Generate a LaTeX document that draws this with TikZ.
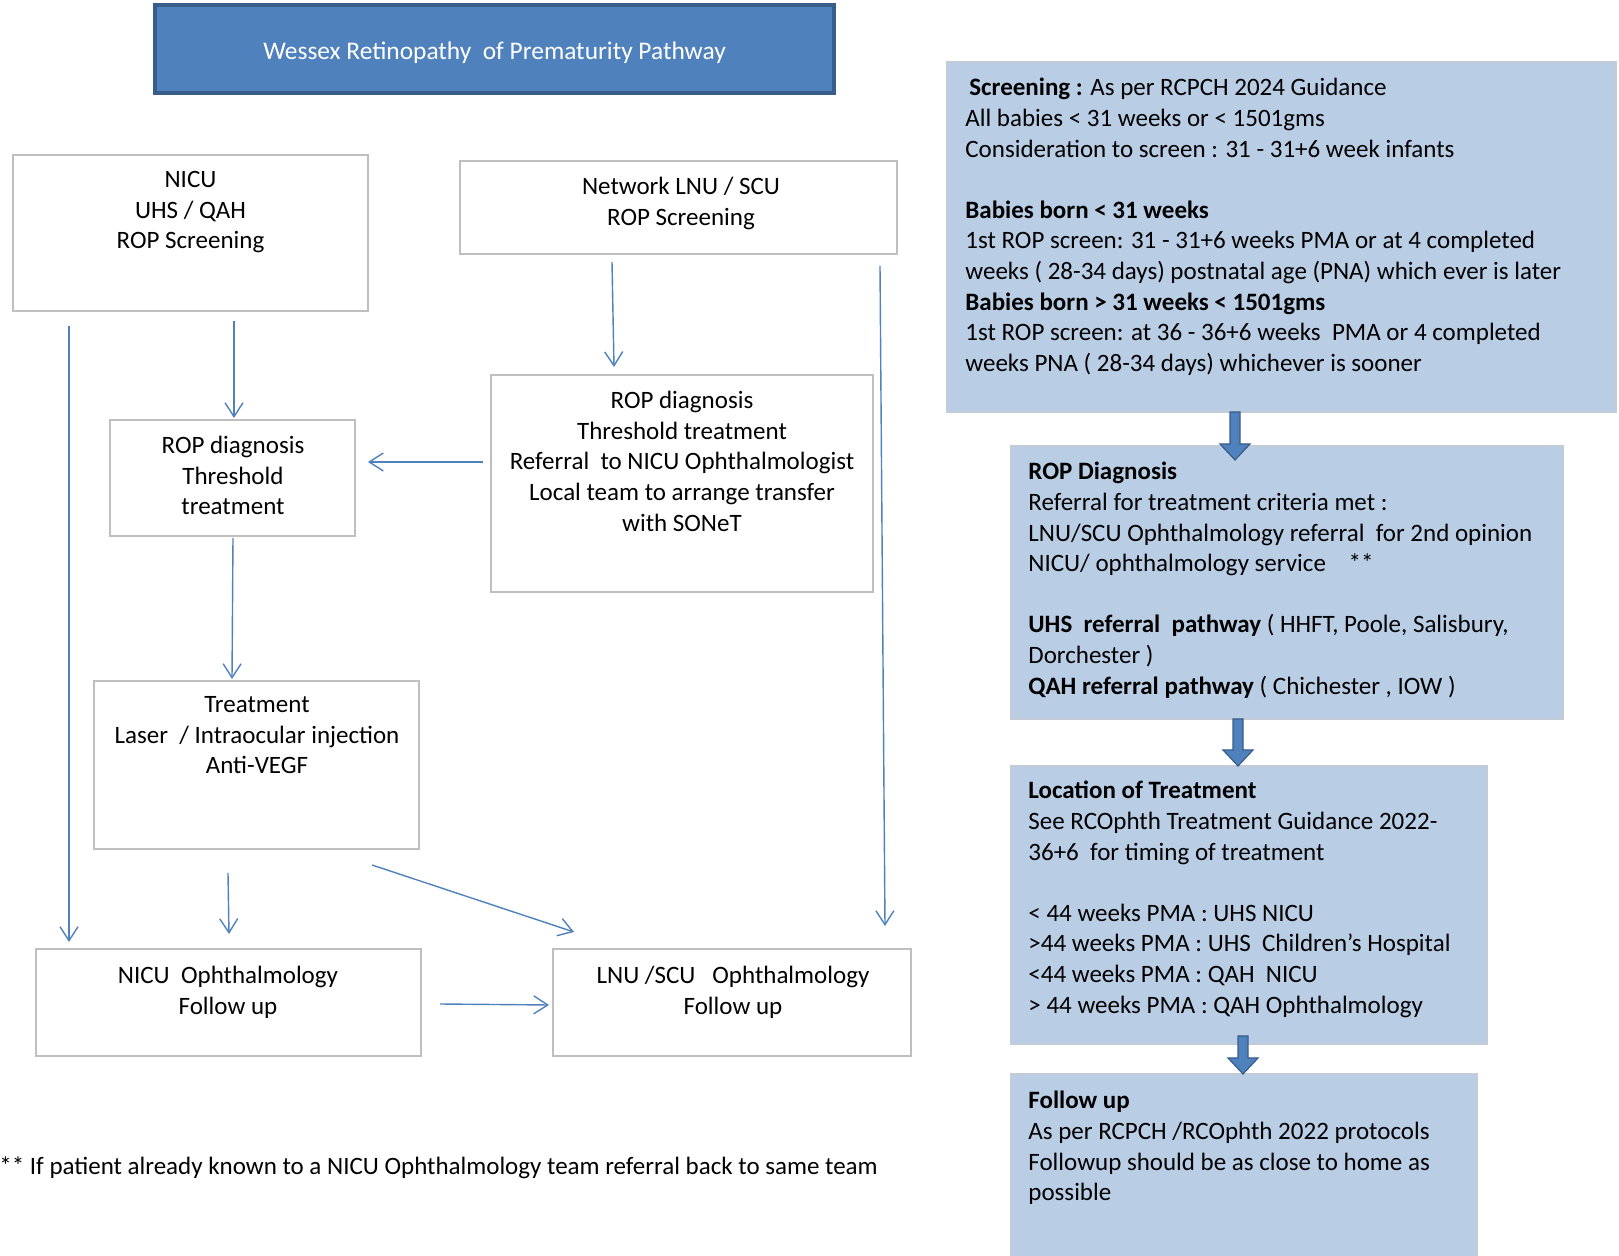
\documentclass[tikz,border=0pt]{standalone}
\usepackage{fontspec}
\setmainfont{Carlito}
\usetikzlibrary{arrows.meta,fit,calc}
\definecolor{accent}{HTML}{4F81BD}
\definecolor{accentdark}{HTML}{385D8A}
\definecolor{panel}{HTML}{B9CDE5}
\definecolor{edge}{HTML}{BFBFBF}
\definecolor{panedge}{HTML}{C3CBD6}
\newcommand\blockarrow[2]{\draw[fill=accent, draw=accentdark, line width=0.6pt] let \p1=(#1), \p2=(#2) in (\x1-2.5pt,\y1) -- (\x1+2.5pt,\y1) -- (\x1+2.5pt,\y2+8pt) -- (\x1+7.5pt,\y2+8pt) -- (\x1,\y2) -- (\x1-7.5pt,\y2+8pt) -- (\x1-2.5pt,\y2+8pt) -- cycle;}
\begin{document}
\begin{tikzpicture}[x=0.5pt,y=-0.5pt,
  every node/.style={font=\fontsize{12.5}{15.3}\selectfont, text=black},
  wbox/.style={draw=edge, line width=0.75pt, fill=white, inner sep=0pt},
  pbox/.style={draw=panedge, line width=0.75pt, fill=panel, inner sep=0pt},
  ctext/.style={anchor=north, align=center, inner sep=0pt},
  ltext/.style={anchor=north west, align=left, inner sep=0pt},
  flow/.style={draw=accent, line width=0.7pt, -{Straight Barb[length=7pt,width=9pt,line width=0.7pt]}}]
\useasboundingbox (0,0) rectangle (1619,1256);
% title
\node[draw=accentdark, line width=2pt, fill=accent, inner sep=0pt, fit={(155,5) (834,93)}] (title) {};
\node[text=white, inner sep=0pt, font=\fontsize{12.7}{15.3}\selectfont] (titletext) at ([yshift=-2pt]title.center) {Wessex Retinopathy\ \ of Prematurity Pathway};
% left flow boxes
\node[wbox, fit={(13,155) (368,311)}] (nicu) {};
\node[ctext] (nicut) at (190.5,171) {NICU\\UHS / QAH\\ROP Screening};
\node[wbox, fit={(460,161) (897,254)}] (net) {};
\node[ctext] (nett) at (681,177) {Network LNU / SCU\\ROP Screening};
\node[wbox, fit={(110,420) (355,536)}] (ropl) {};
\node[ctext] (roplt) at (233,436) {ROP diagnosis\\Threshold\\treatment};
\node[wbox, fit={(491,375) (873,592)}] (ropr) {};
\node[ctext] (roprt) at (682,391) {ROP diagnosis\\Threshold treatment\\Referral\ \ to NICU Ophthalmologist\\Local team to arrange transfer\\with SONeT};
\node[wbox, fit={(94,681) (419,849)}] (treat) {};
\node[ctext] (treatt) at (257,696) {Treatment\\Laser\ \ / Intraocular injection\\Anti-VEGF};
\node[wbox, fit={(36,949) (421,1056)}] (nfu) {};
\node[ctext] (nfut) at (228,966) {NICU\ \ Ophthalmology\\Follow up};
\node[wbox, fit={(553,949) (911,1056)}] (lfu) {};
\node[ctext] (lfut) at (733,966) {LNU /SCU\ \ \ Ophthalmology\\Follow up};
% footnote
\node[anchor=west, inner sep=0pt] (foot) at (-1,1168) {** If patient already known to a NICU Ophthalmology team referral back to same team};
% connector end points
\coordinate (a1s) at (69,326);   \coordinate (a1e) at (69,942);
\coordinate (a2s) at (234,321);  \coordinate (a2e) at (234,418);
\coordinate (a3s) at (612,262);  \coordinate (a3e) at (614,367);
\coordinate (a4s) at (880,266);  \coordinate (a4e) at (885,926);
\coordinate (a5s) at (483,462);  \coordinate (a5e) at (368,462);
\coordinate (a6s) at (233,538);  \coordinate (a6e) at (232,679);
\coordinate (a7s) at (228,873);  \coordinate (a7e) at (229,934);
\coordinate (a8s) at (372,865);  \coordinate (a8e) at (574,932);
\coordinate (a9s) at (440,1004); \coordinate (a9e) at (549,1005);
\draw[flow] (a1s) -- (a1e);
\draw[flow] (a2s) -- (a2e);
\draw[flow] (a3s) -- (a3e);
\draw[flow] (a4s) -- (a4e);
\draw[flow] (a5s) -- (a5e);
\draw[flow] (a6s) -- (a6e);
\draw[flow] (a7s) -- (a7e);
\draw[flow] (a8s) -- (a8e);
\draw[flow] (a9s) -- (a9e);
% right column
\node[pbox, fit={(947,62) (1616,412)}] (screen) {};
\node[ltext] (screent) at (965,78) {\hspace{2pt}\textbf{Screening :} As per RCPCH 2024 Guidance\\
All babies < 31 weeks or < 1501gms\\
Consideration to screen : 31 - 31+6 week infants\\
\mbox{}\\
\textbf{Babies born < 31 weeks}\\
1st ROP screen: 31 - 31+6 weeks PMA or at 4 completed\\
weeks ( 28-34 days) postnatal age (PNA) which ever is later\\
\textbf{Babies born > 31 weeks < 1501gms}\\
1st ROP screen: at 36 - 36+6 weeks\ \ PMA or 4 completed\\
weeks PNA ( 28-34 days) whichever is sooner};
\node[pbox, fit={(1011,446) (1563,719)}] (diag) {};
\node[ltext] (diagt) at (1028,462) {\textbf{ROP Diagnosis}\\
Referral for treatment criteria met :\\
LNU/SCU Ophthalmology referral\ \ for 2nd opinion\\
NICU/ ophthalmology service\ \ \ \ **\\
\mbox{}\\
\textbf{UHS\ \ referral\ \ pathway} ( HHFT, Poole, Salisbury,\\
Dorchester )\\
\textbf{QAH referral pathway} ( Chichester , IOW )};
\node[pbox, fit={(1011,766) (1487,1044)}] (loc) {};
\node[ltext] (loct) at (1028,781) {\textbf{Location of Treatment}\\
See RCOphth Treatment Guidance 2022-\\
36+6\ \ for timing of treatment\\
\mbox{}\\
< 44 weeks PMA : UHS NICU\\
>44 weeks PMA : UHS\ \ Children's Hospital\\
<44 weeks PMA : QAH\ \ NICU\\
> 44 weeks PMA : QAH Ophthalmology};
\node[pbox, fit={(1011,1074) (1477,1264)}] (fu) {};
\node[ltext] (fut) at (1028,1091) {\textbf{Follow up}\\
As per RCPCH /RCOphth 2022 protocols\\
Followup should be as close to home as\\
possible};
% block arrows
\coordinate (b1s) at (1235,412); \coordinate (b1e) at (1235,460);
\coordinate (b2s) at (1238,719); \coordinate (b2e) at (1238,766);
\coordinate (b3s) at (1243,1036); \coordinate (b3e) at (1243,1074);
\blockarrow{b1s}{b1e}
\blockarrow{b2s}{b2e}
\blockarrow{b3s}{b3e}
\end{tikzpicture}
\end{document}
